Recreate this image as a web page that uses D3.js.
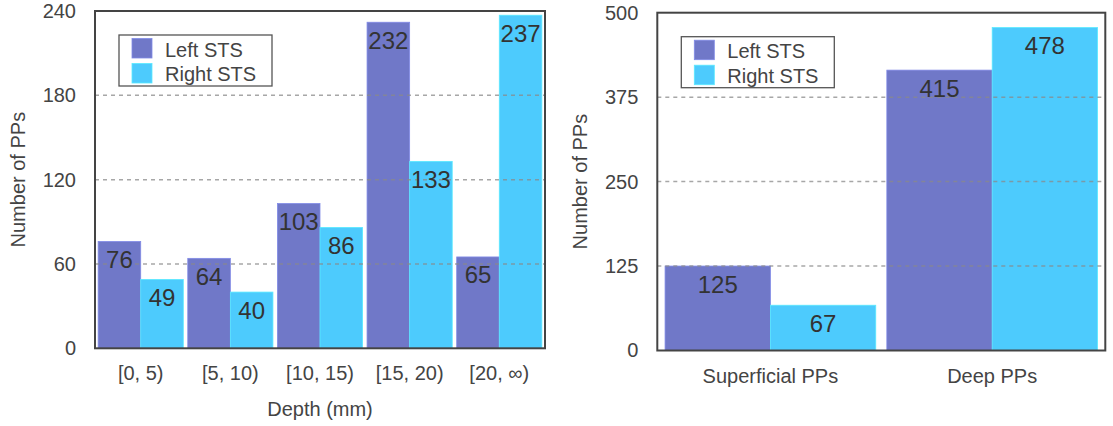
<!DOCTYPE html>
<html>
<head>
<meta charset="utf-8">
<script src="https://cdn.jsdelivr.net/npm/d3@7"></script>
<style>
  html, body { margin: 0; padding: 0; background: #fff; }
  svg { display: block; font-family: "Liberation Sans", Arial, Helvetica, sans-serif; }
</style>
</head>
<body>
<svg id="chart" width="1113" height="426"></svg>
<script>
// ---- data ----
const seriesNames = ["Left STS", "Right STS"];
const seriesColors = ["#7078c8", "#4dcbfd"];

const depthCategories = ["[0, 5)", "[5, 10)", "[10, 15)", "[15, 20)", "[20, \u221e)"];
const depthLeft = [76, 64, 103, 232, 65];
const depthRight = [49, 40, 86, 133, 237];
const depthTicks = [0, 60, 120, 180, 240];

const typeCategories = ["Superficial PPs", "Deep PPs"];
const typeLeft = [125, 415];
const typeRight = [67, 478];
const typeTicks = [0, 125, 250, 375, 500];

const svg = d3.select("#chart");

function drawPanel(opt) {
  const { left, right, top, bottom, cats, vals, ticks, xTitle, yTitleX } = opt;
  const g = svg.append("g");

  const x0 = d3.scaleBand().domain(cats).range([left, right])
    .paddingInner(0.05).paddingOuter(0.035);
  const x1 = d3.scaleBand().domain(seriesNames).range([0, x0.bandwidth()]).padding(0);
  const y = d3.scaleLinear().domain([0, ticks[ticks.length - 1]]).range([bottom, top]);

  // bars
  cats.forEach((c, i) => {
    seriesNames.forEach((s, j) => {
      const v = vals[j][i];
      g.append("rect")
        .attr("x", x0(c) + x1(s))
        .attr("y", y(v))
        .attr("width", x1.bandwidth())
        .attr("height", y(0) - y(v))
        .attr("fill", seriesColors[j])
        .attr("stroke", d3.color(seriesColors[j]).brighter(0.4))
        .attr("stroke-width", 0.8);
    });
  });

  // dashed grid (drawn over bars)
  g.selectAll(".grid").data(ticks.slice(1, -1)).join("line")
    .attr("x1", left).attr("x2", right)
    .attr("y1", d => y(d)).attr("y2", d => y(d))
    .attr("stroke", "#8a8a8a").attr("stroke-opacity", 0.75)
    .attr("stroke-width", 1.5)
    .attr("stroke-dasharray", "4,4");

  // value labels
  cats.forEach((c, i) => {
    seriesNames.forEach((s, j) => {
      const v = vals[j][i];
      g.append("text")
        .attr("x", x0(c) + x1(s) + x1.bandwidth() / 2)
        .attr("y", y(v) + 26.5)
        .attr("text-anchor", "middle")
        .attr("font-size", 24)
        .attr("fill", "#333")
        .text(v);
    });
  });

  // y axis
  const ya = g.append("g").attr("transform", `translate(${left},0)`)
    .call(d3.axisLeft(y).tickValues(ticks).tickSize(0).tickPadding(19));
  ya.select(".domain").remove();
  ya.selectAll("text").attr("font-size", 20).attr("fill", "#444")
    .attr("font-family", "Liberation Sans, Arial, sans-serif");

  // x axis
  const xa = g.append("g").attr("transform", `translate(0,${bottom})`)
    .call(d3.axisBottom(x0).tickSize(0).tickPadding(18));
  xa.select(".domain").remove();
  xa.selectAll("text").attr("font-size", 20).attr("fill", "#444")
    .attr("font-family", "Liberation Sans, Arial, sans-serif");

  // frame
  g.append("rect")
    .attr("x", left).attr("y", top)
    .attr("width", right - left).attr("height", bottom - top)
    .attr("fill", "none").attr("stroke", "#444").attr("stroke-width", 2);

  // y title
  g.append("text")
    .attr("transform", `translate(${yTitleX},${(top + bottom) / 2}) rotate(-90)`)
    .attr("text-anchor", "middle")
    .attr("dominant-baseline", "central")
    .attr("font-size", 20).attr("fill", "#444")
    .text("Number of PPs");

  if (xTitle) {
    g.append("text")
      .attr("x", (left + right) / 2).attr("y", bottom + 68)
      .attr("text-anchor", "middle")
      .attr("font-size", 20).attr("fill", "#444")
      .text(xTitle);
  }

  // legend
  const lx = left + 24, ly = top + 24;
  const lg = g.append("g");
  lg.append("rect").attr("x", lx).attr("y", ly).attr("width", 153).attr("height", 51)
    .attr("fill", "#fff").attr("stroke", "#555").attr("stroke-width", 1.3);
  seriesNames.forEach((s, j) => {
    lg.append("rect")
      .attr("x", lx + 13).attr("y", ly + 3.5 + j * 25)
      .attr("width", 20).attr("height", 19.5)
      .attr("fill", seriesColors[j])
      .attr("stroke", d3.color(seriesColors[j]).brighter(0.4)).attr("stroke-width", 0.8);
    lg.append("text")
      .attr("x", lx + 46).attr("y", ly + 21.5 + j * 24.5)
      .attr("font-size", 20).attr("fill", "#444")
      .text(s);
  });
}

drawPanel({
  left: 95, right: 545, top: 11, bottom: 348.3,
  cats: depthCategories, vals: [depthLeft, depthRight], ticks: depthTicks,
  xTitle: "Depth (mm)", yTitleX: 18
});

drawPanel({
  left: 657.3, right: 1105.3, top: 12.7, bottom: 350.5,
  cats: typeCategories, vals: [typeLeft, typeRight], ticks: typeTicks,
  xTitle: null, yTitleX: 580
});
</script>
</body>
</html>
